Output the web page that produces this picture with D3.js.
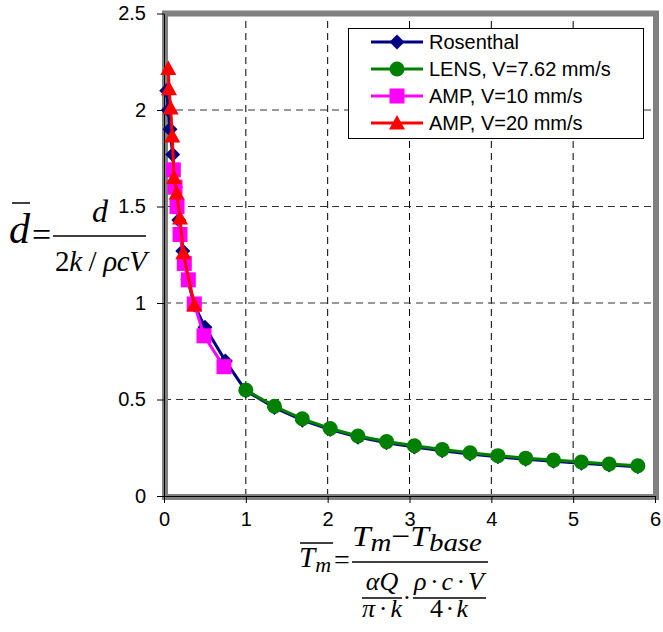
<!DOCTYPE html>
<html>
<head>
<meta charset="utf-8">
<script src="https://cdn.jsdelivr.net/npm/d3@7"></script>
<style>
  body { margin: 0; background: #fff; }
  .axis text { font-family: "Liberation Sans", Arial, sans-serif; font-size: 20px; fill: #000; }
  .eq { font-family: "Liberation Serif", "Times New Roman", serif; font-style: italic; fill: #000; }
  .up { font-style: normal; }
  .legend text { font-family: "Liberation Sans", Arial, sans-serif; font-size: 20px; }
</style>
</head>
<body>
<script>
// tick values
var xTicks = [0, 1, 2, 3, 4, 5, 6];
var yTicks = [0, 0.5, 1, 1.5, 2, 2.5];

// series
var rosenthalX = [0.033, 0.053, 0.073, 0.106, 0.14, 0.18, 0.23, 0.29, 0.37, 0.5, 0.75, 1.0, 1.35, 1.69, 2.03, 2.37, 2.72, 3.06, 3.40, 3.74, 4.08, 4.42, 4.76, 5.10, 5.44, 5.79];
var rosenthalY = [2.10, 2.00, 1.90, 1.77, 1.60, 1.43, 1.27, 1.12, 0.99, 0.875, 0.70, 0.545, 0.458, 0.393, 0.344, 0.305, 0.276, 0.254, 0.235, 0.218, 0.203, 0.190, 0.180, 0.170, 0.160, 0.151];

var lensX = [1.0, 1.35, 1.69, 2.03, 2.37, 2.72, 3.06, 3.40, 3.74, 4.08, 4.42, 4.76, 5.10, 5.44, 5.79];
var lensY = [0.549, 0.465, 0.400, 0.350, 0.311, 0.282, 0.260, 0.241, 0.224, 0.209, 0.196, 0.186, 0.176, 0.166, 0.157];

var amp10X = [0.114, 0.134, 0.159, 0.196, 0.248, 0.297, 0.370, 0.489, 0.733];
var amp10Y = [1.69, 1.60, 1.50, 1.355, 1.205, 1.12, 0.995, 0.83, 0.67];

var amp20X = [0.053, 0.061, 0.082, 0.101, 0.122, 0.155, 0.196, 0.236, 0.370];
var amp20Y = [2.215, 2.11, 2.01, 1.865, 1.65, 1.57, 1.44, 1.26, 0.99];

var seriesNames = ["Rosenthal", "LENS, V=7.62 mm/s", "AMP, V=10 mm/s", "AMP, V=20 mm/s"];
var seriesColors = ["#000080", "#008000", "#FF00FF", "#FF0000"];
var seriesShapes = ["diamond", "circle", "square", "triangle"];

var W = 663, H = 632;
var margin = {top: 13.5, right: 8, bottom: 136, left: 164};

var x = d3.scaleLinear().domain([0, 6]).range([margin.left, W - margin.right]);
var y = d3.scaleLinear().domain([0, 2.5]).range([H - margin.bottom, margin.top]);

var svg = d3.select("body").append("svg")
    .attr("width", W)
    .attr("height", H);

// marker shapes
function marker(g, shape, color) {
  if (shape === "circle") {
    g.append("circle").attr("r", 7.5).attr("fill", color);
  } else if (shape === "square") {
    g.append("rect").attr("x", -7.5).attr("y", -7.5).attr("width", 15).attr("height", 15).attr("fill", color);
  } else if (shape === "diamond") {
    g.append("path").attr("d", "M0,-7.5L7.5,0L0,7.5L-7.5,0Z").attr("fill", color);
  } else {
    g.append("path").attr("d", "M0,-8L8,6.5L-8,6.5Z").attr("fill", color);
  }
}

// grid lines
svg.append("g").selectAll("line")
    .data(xTicks.slice(1, -1))
  .enter().append("line")
    .attr("x1", d => x(d)).attr("x2", d => x(d))
    .attr("y1", y(0)).attr("y2", y(2.5))
    .attr("stroke", "#000").attr("stroke-dasharray", "7,5");

svg.append("g").selectAll("line")
    .data(yTicks.slice(1, -1))
  .enter().append("line")
    .attr("x1", x(0)).attr("x2", x(6))
    .attr("y1", d => y(d)).attr("y2", d => y(d))
    .attr("stroke", "#333").attr("stroke-dasharray", "7,5");

// plot area border
svg.append("rect")
    .attr("x", x(0) + 1).attr("y", y(2.5))
    .attr("width", x(6) - x(0)).attr("height", y(0) - y(2.5) + 1)
    .attr("fill", "none").attr("stroke", "#808080").attr("stroke-width", 6);

// axes
svg.append("g")
    .attr("class", "axis")
    .attr("transform", "translate(0," + y(0) + ")")
    .call(d3.axisBottom(x).tickValues(xTicks).tickFormat(d3.format("")).tickSize(7).tickSizeOuter(0).tickPadding(9));

svg.append("g")
    .attr("class", "axis")
    .attr("transform", "translate(" + x(0) + ",0)")
    .call(d3.axisLeft(y).tickValues(yTicks).tickFormat(d3.format("")).tickSize(7).tickSizeOuter(0).tickPadding(11));

svg.selectAll(".axis path, .axis line").attr("stroke", "#000");

// series
var allX = [rosenthalX, lensX, amp10X, amp20X];
var allY = [rosenthalY, lensY, amp10Y, amp20Y];

var line = d3.line().x(d => x(d[0])).y(d => y(d[1]));

allX.forEach(function(xs, i) {
  var pts = xs.map((v, j) => [v, allY[i][j]]);
  var g = svg.append("g");
  g.append("path")
      .datum(pts)
      .attr("d", line)
      .attr("fill", "none")
      .attr("stroke", seriesColors[i])
      .attr("stroke-width", 3);
  g.selectAll(".pt")
      .data(pts)
    .enter().append("g")
      .attr("transform", d => "translate(" + x(d[0]) + "," + y(d[1]) + ")")
      .each(function() { marker(d3.select(this), seriesShapes[i], seriesColors[i]); });
});

// legend
var legend = svg.append("g").attr("class", "legend");
legend.append("rect")
    .attr("x", 348.5).attr("y", 28.5).attr("width", 295).attr("height", 110)
    .attr("fill", "#fff").attr("stroke", "#000");

seriesNames.forEach(function(name, i) {
  var ly = 42 + i * 27;
  var row = legend.append("g").attr("transform", "translate(0," + ly + ")");
  row.append("line").attr("x1", 371).attr("x2", 423).attr("stroke", seriesColors[i]).attr("stroke-width", 3);
  marker(row.append("g").attr("transform", "translate(397,0)"), seriesShapes[i], seriesColors[i]);
  row.append("text").attr("x", 429).attr("y", 7).text(name);
});

// y axis label: d-bar = d / (2k / rho c V)
var yl = svg.append("g").attr("class", "eq");
yl.append("text").attr("x", 9).attr("y", 243).attr("font-size", 42).text("d");
yl.append("line").attr("x1", 12).attr("x2", 30).attr("y1", 203).attr("y2", 203).attr("stroke", "#000").attr("stroke-width", 1.5);
yl.append("text").attr("class", "up").attr("x", 32).attr("y", 246).attr("font-size", 34).text("=");
yl.append("text").attr("x", 100).attr("y", 222).attr("font-size", 32).attr("text-anchor", "middle").text("d");
yl.append("line").attr("x1", 53).attr("x2", 146).attr("y1", 236).attr("y2", 236).attr("stroke", "#000").attr("stroke-width", 1.5);
var den = yl.append("text").attr("x", 55).attr("y", 271).attr("font-size", 29)
    .attr("textLength", 92).attr("lengthAdjust", "spacing");
den.append("tspan").attr("class", "up").text("2");
den.append("tspan").text("k ");
den.append("tspan").attr("class", "up").text("/ ");
den.append("tspan").text("ρcV");

// x axis label
var xl = svg.append("g").attr("class", "eq");
var tm = xl.append("text").attr("x", 299).attr("y", 567).attr("font-size", 29);
tm.append("tspan").text("T");
tm.append("tspan").attr("font-size", 22).attr("dy", 5).text("m");
xl.append("line").attr("x1", 300).attr("x2", 333).attr("y1", 543).attr("y2", 543).attr("stroke", "#000").attr("stroke-width", 1.5);
xl.append("text").attr("class", "up").attr("x", 334).attr("y", 569).attr("font-size", 28).text("=");

var num = xl.append("text").attr("x", 352).attr("y", 546).attr("font-size", 30)
    .attr("textLength", 130).attr("lengthAdjust", "spacingAndGlyphs");
num.append("tspan").text("T");
num.append("tspan").attr("font-size", 26).attr("dy", 5).text("m");
num.append("tspan").attr("class", "up").attr("dy", -5).text("−");
num.append("tspan").text("T");
num.append("tspan").attr("font-size", 26).attr("dy", 5).text("base");
xl.append("line").attr("x1", 352).attr("x2", 488).attr("y1", 562).attr("y2", 562).attr("stroke", "#000").attr("stroke-width", 1.5);

xl.append("text").attr("x", 382).attr("y", 590).attr("font-size", 26)
    .attr("text-anchor", "middle").text("αQ");
xl.append("line").attr("x1", 362).attr("x2", 402).attr("y1", 598).attr("y2", 598).attr("stroke", "#000").attr("stroke-width", 1.5);
xl.append("text").attr("x", 362).attr("y", 617).attr("font-size", 26)
    .attr("textLength", 40).attr("lengthAdjust", "spacing").text("π·k");
xl.append("text").attr("class", "up").attr("x", 407).attr("y", 606).attr("font-size", 25).attr("text-anchor", "middle").text("·");
xl.append("text").attr("x", 414).attr("y", 590).attr("font-size", 26)
    .attr("textLength", 70).attr("lengthAdjust", "spacing").text("ρ·c·V");
xl.append("line").attr("x1", 413).attr("x2", 486).attr("y1", 598).attr("y2", 598).attr("stroke", "#000").attr("stroke-width", 1.5);
var fk = xl.append("text").attr("x", 430).attr("y", 617).attr("font-size", 26)
    .attr("textLength", 38).attr("lengthAdjust", "spacing");
fk.append("tspan").attr("class", "up").text("4·");
fk.append("tspan").text("k");
</script>
</body>
</html>
